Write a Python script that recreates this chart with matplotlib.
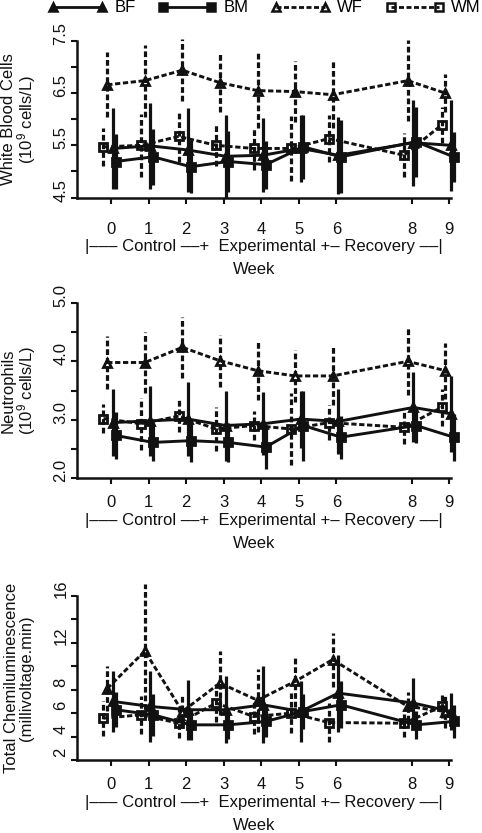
import matplotlib
matplotlib.use("Agg")
import matplotlib.pyplot as plt
import matplotlib.transforms as mtransforms
from matplotlib.lines import Line2D

plt.rcParams['font.family'] = ['Liberation Sans', 'DejaVu Sans']
plt.rcParams['font.size'] = 12
plt.rcParams['mathtext.default'] = 'regular'

weeks = [0, 1, 2, 3, 4, 5, 6, 8, 9]
groups = ["BF", "BM", "WF", "WM"]

# white blood cells (10^9 cells/L)
bf_wbc = [5.44, 5.49, 5.41, 5.29, 5.31, 5.44, 5.31, 5.55, 5.50]
bf_wbc_sd = [0.77, 0.82, 0.80, 0.79, 0.71, 0.64, 0.74, 0.82, 0.87]
bm_wbc = [5.19, 5.28, 5.09, 5.19, 5.13, 5.47, 5.28, 5.57, 5.28]
bm_wbc_sd = [0.52, 0.54, 0.51, 0.58, 0.46, 0.62, 0.70, 0.67, 0.48]
wf_wbc = [6.66, 6.74, 6.94, 6.70, 6.55, 6.53, 6.47, 6.74, 6.50]
wf_wbc_sd = [0.62, 0.69, 0.59, 0.57, 0.72, 0.58, 0.64, 0.77, 0.37]
wm_wbc = [5.47, 5.50, 5.67, 5.50, 5.44, 5.44, 5.63, 5.31, 5.89]
wm_wbc_sd = [0.36, 0.60, 0.48, 0.40, 0.42, 0.62, 0.45, 0.42, 0.35]

# neutrophils (10^9 cells/L)
bf_neu = [2.95, 2.98, 3.01, 2.90, 2.93, 3.01, 2.97, 3.21, 3.10]
bf_neu_sd = [0.58, 0.60, 0.63, 0.60, 0.54, 0.49, 0.56, 0.60, 0.65]
bm_neu = [2.73, 2.61, 2.64, 2.61, 2.53, 2.90, 2.70, 2.90, 2.70]
bm_neu_sd = [0.40, 0.31, 0.37, 0.34, 0.38, 0.60, 0.37, 0.30, 0.40]
wf_neu = [3.98, 3.98, 4.24, 4.01, 3.84, 3.75, 3.75, 4.00, 3.84]
wf_neu_sd = [0.46, 0.53, 0.52, 0.45, 0.50, 0.45, 0.50, 0.58, 0.48]
wm_neu = [3.02, 2.93, 3.06, 2.84, 2.90, 2.84, 2.95, 2.87, 3.21]
wm_neu_sd = [0.25, 0.45, 0.27, 0.38, 0.25, 0.62, 0.30, 0.28, 0.32]

# total chemiluminescence (millivoltage.min)
bf_chl = [7.00, 6.57, 6.29, 6.29, 6.71, 6.14, 7.71, 6.86, 6.14]
bf_chl_sd = [2.57, 3.00, 2.57, 2.85, 3.29, 2.57, 3.29, 2.14, 1.56]
bm_chl = [6.29, 5.86, 5.00, 5.00, 5.29, 6.14, 6.71, 5.00, 5.29]
bm_chl_sd = [1.50, 1.80, 1.30, 1.20, 1.30, 1.50, 2.00, 1.20, 1.40]
wf_chl = [8.10, 11.30, 6.14, 8.57, 7.10, 8.71, 10.57, 6.57, 6.14]
wf_chl_sd = [1.90, 5.70, 1.43, 2.70, 2.70, 2.15, 2.30, 1.20, 1.43]
wm_chl = [5.57, 5.86, 5.14, 6.86, 5.71, 6.00, 5.20, 5.14, 6.57]
wm_chl_sd = [1.50, 1.60, 1.30, 1.60, 1.50, 1.70, 1.70, 1.20, 1.00]

phase_text = "|\u2013\u2013\u2013 Control \u2013\u2013+  Experimental +\u2013 Recovery \u2013\u2013|"

DASH = (0, (1.8, 0.9))
STYLE = {
    "BF": dict(marker="^", mfc="#111111", ls="-", dx=0.05),
    "BM": dict(marker="s", mfc="#111111", ls="-", dx=0.12),
    "WF": dict(marker="^", mfc="none", ls=DASH, dx=-0.10),
    "WM": dict(marker="s", mfc="none", ls=DASH, dx=-0.20),
}
INK = "#111111"
W, H = 482, 833


def draw_panel(ax, series, yticks, yticklabels, ylim, ylabel, xpad, text_top):
    for name in ["WM", "WF", "BM", "BF"]:
        mean, sd = series[name]
        st = STYLE[name]
        x = [w + st["dx"] for w in weeks]
        line, caps, bars = ax.errorbar(
            x, mean, yerr=sd, color=INK, ls=st["ls"], lw=2.1,
            marker=st["marker"], ms=6, mfc=st["mfc"], mec=INK, mew=2.0,
            elinewidth=2.3, capsize=0, clip_on=False, zorder=3,
        )
        for b in bars:
            b.set_linestyle(st["ls"])
            b.set_clip_on(False)

    ax.set_xlim(-0.905, 9.05)
    ax.set_ylim(*ylim)
    for side in ["top", "right"]:
        ax.spines[side].set_visible(False)
    for side in ["left", "bottom"]:
        ax.spines[side].set_linewidth(1.8)
        ax.spines[side].set_color(INK)

    ax.set_xticks(weeks)
    ax.set_xticklabels([str(w) for w in weeks])
    ax.set_yticks(yticks)
    ax.set_yticklabels([])
    ax.tick_params(axis="x", length=4, width=1.5, pad=xpad, colors=INK)
    ax.tick_params(axis="y", length=4, width=1.5, colors=INK)

    # rotated y tick labels, sitting a little above their ticks
    trans = mtransforms.blended_transform_factory(ax.transAxes, ax.transData)
    trans = trans + mtransforms.ScaledTranslation(
        -0.16, 0.075, ax.figure.dpi_scale_trans)
    for val, lab in zip(yticks, yticklabels):
        if lab:
            ax.text(0, val, lab, transform=trans, rotation=90,
                    ha="center", va="center", color=INK)

    ax.text(-0.155, 0.5, ylabel, transform=ax.transAxes, rotation=90,
            ha="center", va="center", linespacing=0.95,
            multialignment="center", color=INK)
    ax.annotate(phase_text, xy=(0.5, 0), xycoords="axes fraction",
                xytext=(0, -text_top), textcoords="offset pixels",
                ha="center", va="center", color=INK)
    ax.annotate("Week", xy=(0.473, 0), xycoords="axes fraction",
                xytext=(0, -text_top - 23), textcoords="offset pixels",
                ha="center", va="center", color=INK)


fig = plt.figure(figsize=(W / 100, H / 100), dpi=100)


def add_axes(top_px, bottom_px):
    return fig.add_axes([77 / W, 1 - bottom_px / H, 374 / W,
                         (bottom_px - top_px) / H])


ax1 = add_axes(41, 197.5)
ax2 = add_axes(303, 478)
ax3 = add_axes(596, 760)

draw_panel(
    ax1,
    {"BF": (bf_wbc, bf_wbc_sd), "BM": (bm_wbc, bm_wbc_sd),
     "WF": (wf_wbc, wf_wbc_sd), "WM": (wm_wbc, wm_wbc_sd)},
    [4.5, 5.0, 5.5, 6.0, 6.5, 7.0, 7.5],
    ["4.5", "", "5.5", "", "6.5", "", "7.5"],
    (4.5, 7.5), "White Blood Cells\n(10$^{9}$ cells/L)", 14, 49,
)
draw_panel(
    ax2,
    {"BF": (bf_neu, bf_neu_sd), "BM": (bm_neu, bm_neu_sd),
     "WF": (wf_neu, wf_neu_sd), "WM": (wm_neu, wm_neu_sd)},
    [2.0, 2.5, 3.0, 3.5, 4.0, 4.5, 5.0],
    ["2.0", "", "3.0", "", "4.0", "", "5.0"],
    (2.0, 5.0), "Neutrophils\n(10$^{9}$ cells/L)", 8, 43,
)
draw_panel(
    ax3,
    {"BF": (bf_chl, bf_chl_sd), "BM": (bm_chl, bm_chl_sd),
     "WF": (wf_chl, wf_chl_sd), "WM": (wm_chl, wm_chl_sd)},
    [2, 4, 6, 8, 10, 12, 14, 16],
    ["2", "4", "6", "8", "", "12", "", "16"],
    (2, 16), "Total Chemiluminescence\n(millivoltage.min)", 8, 43,
)

handles = []
for name in groups:
    st = STYLE[name]
    handles.append(Line2D([], [], color=INK, ls=st["ls"], lw=2.0,
                          marker=st["marker"], ms=5.5, mfc=st["mfc"],
                          mec=INK, mew=1.8))
fig.legend(handles, groups, loc="center right",
           bbox_to_anchor=(481 / W, 1 - 8 / H),
           ncol=4, frameon=False, numpoints=2, handlelength=3.5,
           handletextpad=0.45, columnspacing=1.35, borderpad=0,
           borderaxespad=0)

fig.savefig("out.png", dpi=100)
